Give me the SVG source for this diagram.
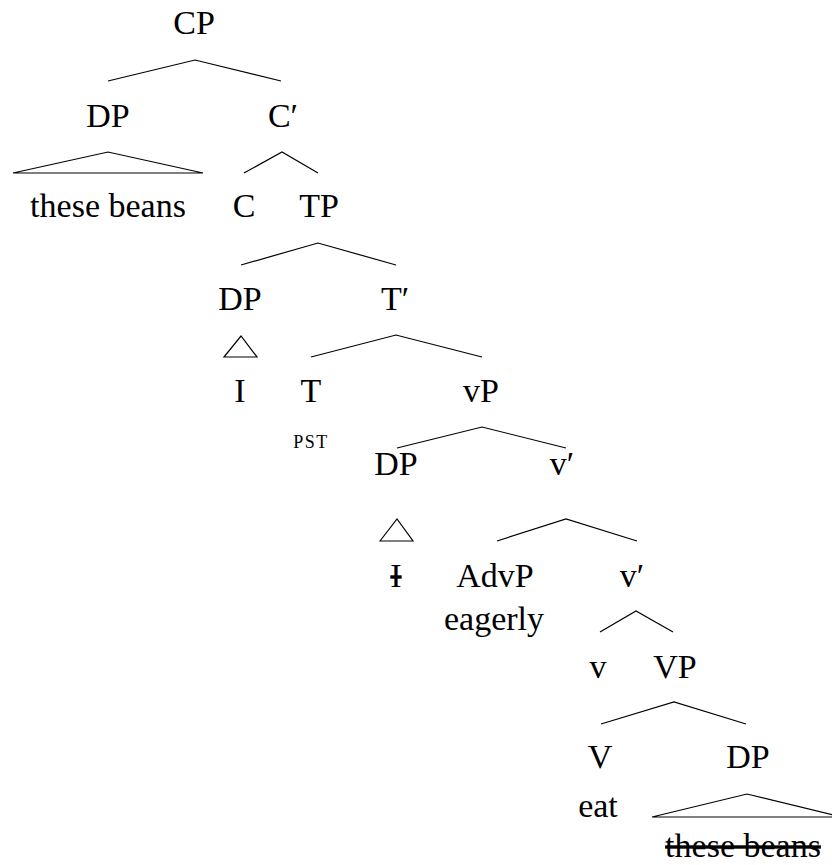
<svg xmlns="http://www.w3.org/2000/svg" width="832" height="865" viewBox="0 0 832 865">
<style>
text{font-family:"Liberation Serif","DejaVu Serif",serif;font-size:34px;fill:#000;text-anchor:middle}
.sm{font-size:18px;letter-spacing:1.5px}
.st{text-decoration:line-through}
#edges path{fill:none;stroke:#000;stroke-width:1.2;stroke-linejoin:miter}
</style>
<rect width="832" height="865" fill="#fff"/>
<g id="edges">
<path d="M108,81 L195,60 L281,81"/>
<path d="M13,173 L108,152 L203,173 Z"/>
<path d="M244,173 L282,152 L318,173"/>
<path d="M241,265 L318,243 L396,265"/>
<path d="M224,357 L241,336 L257,357 Z"/>
<path d="M311,357 L396,335 L482,357"/>
<path d="M397,448 L482,427 L566,448"/>
<path d="M380,541 L397,519 L413,541 Z"/>
<path d="M497,541 L566,519 L637,541"/>
<path d="M600,632 L636,611 L673,632"/>
<path d="M601,724 L674,702 L746,724"/>
<path d="M652,817 L747,794 L842,817 Z"/>
</g>
<g id="n-cp"><text x="194" y="34">CP</text></g>
<g id="n-dp1"><text x="108" y="127">DP</text></g>
<g id="n-cbar"><text x="283" y="127">C′</text></g>
<g id="n-beans1"><text x="108" y="217">these beans</text></g>
<g id="n-c"><text x="244" y="217">C</text></g>
<g id="n-tp"><text x="319" y="217">TP</text></g>
<g id="n-dp2"><text x="240" y="310">DP</text></g>
<g id="n-tbar"><text x="395" y="310">T′</text></g>
<g id="n-i"><text x="240" y="402">I</text></g>
<g id="n-t"><text x="311" y="402">T</text><text class="sm" x="311" y="448">PST</text></g>
<g id="n-vp"><text x="481" y="402">vP</text></g>
<g id="n-dp3"><text x="396" y="475">DP</text></g>
<g id="n-vbar1"><text x="562" y="475">v′</text></g>
<g id="n-i2"><text class="st" x="396" y="587">I</text></g>
<g id="n-advp"><text x="495" y="587">AdvP</text><text x="494" y="630">eagerly</text></g>
<g id="n-vbar2"><text x="632" y="587">v′</text></g>
<g id="n-v"><text x="598" y="678">v</text></g>
<g id="n-vp2"><text x="675" y="678">VP</text></g>
<g id="n-V"><text x="600" y="768">V</text><text x="598" y="817">eat</text></g>
<g id="n-dp4"><text x="748" y="768">DP</text></g>
<g id="n-beans2"><text class="st" x="743" y="857">these beans</text></g>
</svg>
